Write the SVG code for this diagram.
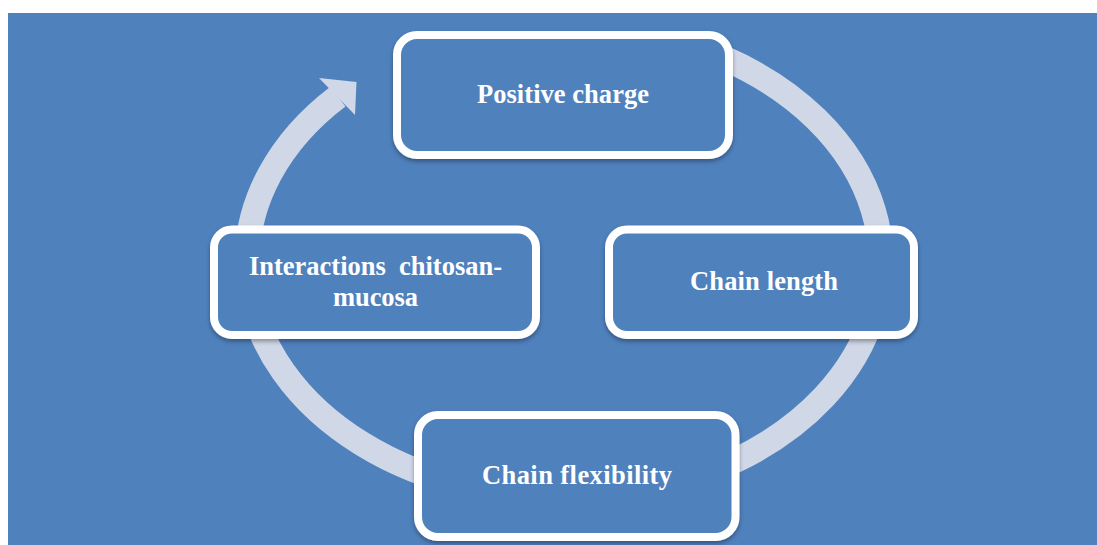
<svg xmlns="http://www.w3.org/2000/svg" width="1097" height="545" viewBox="0 0 1097 545">
<style>
.box{fill:#4f81bd;stroke:#ffffff;stroke-width:8;filter:url(#sh)}
.lbl{font-family:"Liberation Serif","DejaVu Serif",serif;font-weight:bold;font-size:26.5px;fill:#ffffff;text-anchor:middle;white-space:pre}
.ring{fill:none;stroke:#d0d8e8;stroke-width:25}
</style>
<defs>
<filter id="sh" x="-10%" y="-10%" width="120%" height="130%">
<feDropShadow dx="0" dy="2.5" stdDeviation="2" flood-color="#000000" flood-opacity="0.35"/>
</filter>
</defs>
<rect x="0" y="0" width="1097" height="545" fill="#ffffff"/>
<rect x="8" y="13" width="1089" height="532" fill="#4f81bd"/>
<g id="connectors">
<path class="ring" d="M722.5,57.6 A317,236 0 1 1 337.9,96.6"/>
<polygon points="319,78 356.5,82 355,115" fill="#d0d8e8"/>
</g>
<g id="node-positive-charge">
<rect class="box" x="397" y="35" width="332" height="120" rx="20"/>
<text class="lbl" x="563" y="103" textLength="172">Positive charge</text>
</g>
<g id="node-chain-length">
<rect class="box" x="609" y="229.5" width="305" height="105.5" rx="18"/>
<text class="lbl" x="764" y="290" textLength="148">Chain length</text>
</g>
<g id="node-chain-flexibility">
<rect class="box" x="418" y="415" width="317.5" height="122" rx="20"/>
<text class="lbl" x="577" y="483.5" textLength="190">Chain flexibility</text>
</g>
<g id="node-interactions">
<rect class="box" x="214" y="229.5" width="322" height="105.5" rx="18"/>
<text class="lbl" x="375.5" y="275" textLength="253" xml:space="preserve">Interactions  chitosan-</text>
<text class="lbl" x="375.5" y="306" textLength="85">mucosa</text>
</g>
</svg>
